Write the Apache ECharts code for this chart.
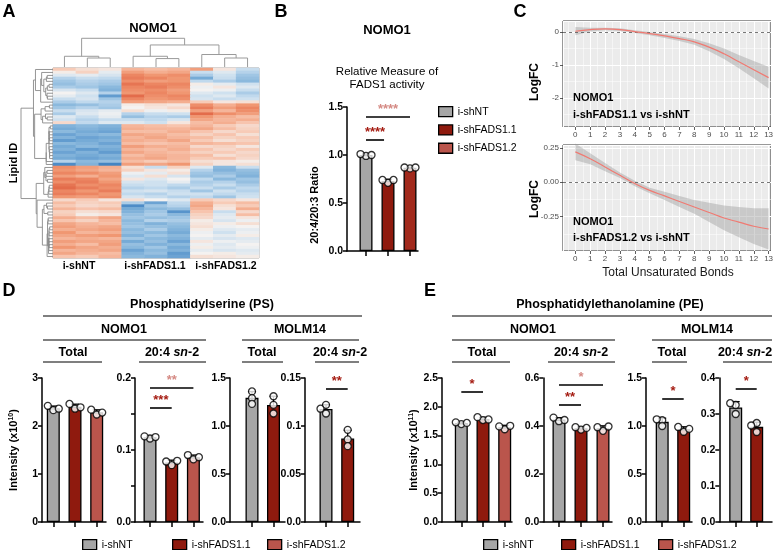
<!DOCTYPE html>
<html>
<head>
<meta charset="utf-8">
<script src="https://cdn.jsdelivr.net/npm/echarts/dist/echarts.min.js"></script>
<style>
html, body { margin: 0; padding: 0; background: #fff; }
#main { width: 775px; height: 550px; }
</style>
</head>
<body>
<div id="main"></div>
<script>
var FONT = '"Liberation Sans", Arial, sans-serif';

// groups and colours
var groups = ['i-shNT', 'i-shFADS1.1', 'i-shFADS1.2'];
var barColors = ['#a6a6a6', '#8f1a0e', '#ba554c'];
var barColorsB = ['#a6a6a6', '#8f1a0e', '#a1291c'];
var RED = '#a51c12', PINK = '#d58a84';

// panel A: heatmap columns (3 replicates per group), z-scored lipid rows
var heatCols = ['NT-1', 'NT-2', 'NT-3', 'F1.1-1', 'F1.1-2', 'F1.1-3', 'F1.2-1', 'F1.2-2', 'F1.2-3'];
var heatRows = [
  [0.6, 0.3, 0.2, 0.9, 0.8, 0.9, 1.2, 0.2, -0.6],
  [0.1, 0.5, -0.2, 1.2, 1.0, 1.1, -0.6, -0.3, -0.8],
  [-0.3, -0.2, -0.4, 1.5, 1.3, 1.4, -0.9, -0.5, -1.0],
  [-0.8, -0.6, -0.7, 1.6, 1.5, 1.3, -1.4, -0.6, -1.1],
  [-1.0, -0.8, -0.9, 1.4, 1.2, 1.3, -0.7, -0.9, -1.2],
  [-1.1, -0.9, -1.0, 1.7, 1.5, 1.5, 0.1, -0.2, -0.5],
  [-0.9, -1.0, -1.2, 1.5, 1.6, 1.4, -0.1, 0.2, -0.3],
  [-0.4, -0.6, -1.3, 1.4, 1.4, 1.2, 0.0, -0.1, -0.6],
  [0.0, -0.3, -0.8, 1.3, 1.5, 1.3, -0.3, -0.5, -0.9],
  [-0.2, -0.5, -1.6, 1.8, 1.4, 1.5, -0.5, -0.3, -0.7],
  [-0.6, -0.4, -1.0, 1.5, 1.3, 1.4, -0.4, -0.6, -0.5],
  [-0.9, -0.7, -0.8, 1.2, 1.1, 1.0, 0.6, 0.2, 0.3],
  [-1.2, -1.1, -0.9, 0.1, 0.3, 0.2, 1.4, 1.0, 1.3],
  [-1.0, -0.8, -1.0, 0.0, 0.2, 0.4, 1.6, 1.2, 1.5],
  [-0.6, -0.4, -0.2, 0.3, -0.1, 0.1, 1.2, 0.9, 1.4],
  [-0.9, -0.3, -0.1, -0.8, -0.6, -0.5, 1.8, 1.4, 1.2],
  [-0.3, -0.6, -0.2, -1.1, -0.8, -0.9, 1.3, 1.0, 0.8],
  [-0.5, -0.8, -0.6, -0.6, -0.7, -0.4, 1.1, 0.9, 1.0],
  [0.4, -0.7, -0.3, -0.3, -0.5, 0.2, 0.8, 1.0, 0.7],
  [-1.3, -1.2, -1.3, 0.9, 0.8, 0.7, 0.9, 0.6, 0.4],
  [-1.4, -1.3, -1.4, 1.0, 0.9, 0.9, 1.1, 0.8, 0.5],
  [-1.2, -1.4, -1.5, 0.8, 0.8, 1.0, 0.7, 0.4, 0.6],
  [-1.5, -1.3, -1.2, 1.1, 1.0, 0.8, 0.5, 0.7, 0.3],
  [-1.3, -1.5, -1.4, 0.9, 1.1, 0.9, 0.8, 0.5, 0.6],
  [-1.6, -1.4, -1.3, 1.0, 0.9, 1.1, 0.6, 0.3, 0.5],
  [-1.2, -1.3, -1.5, 0.8, 0.7, 0.8, 0.9, 0.8, 0.7],
  [-1.4, -1.2, -1.3, 1.2, 1.0, 0.9, 0.4, 0.5, 0.2],
  [-1.3, -1.6, -1.4, 0.9, 0.8, 1.0, 0.7, 0.4, 0.6],
  [-1.5, -1.3, -1.6, 1.1, 0.9, 0.8, 0.5, 0.6, 0.4],
  [-1.3, -1.4, -1.3, 0.8, 1.0, 0.9, 0.8, 0.3, 0.5],
  [-1.4, -1.5, -1.4, 1.0, 1.1, 0.9, 0.6, 0.7, 0.4],
  [-0.8, -1.2, -1.1, 0.8, 0.6, 0.8, 0.3, 0.2, 0.1],
  [-1.8, -1.3, -1.9, 1.2, 1.1, 1.3, 0.5, 0.2, 0.3],
  [1.4, 1.2, 1.0, 0.3, -0.6, 0.5, -0.3, -1.2, -0.6],
  [1.3, 1.1, 0.9, 0.5, 0.2, 0.1, -0.8, -1.3, -1.1],
  [1.5, 1.4, 1.2, -0.1, -0.2, 0.3, -1.0, -1.1, -1.2],
  [1.2, 1.0, 1.3, -0.3, 0.3, -0.4, -1.1, -0.9, -1.3],
  [1.6, 1.5, 1.1, 0.2, -0.3, 0.0, -0.7, -1.2, -1.0],
  [1.4, 1.6, 1.3, -0.4, -0.5, -0.2, -0.9, -0.8, -1.1],
  [1.7, 1.4, 1.5, -0.6, -0.5, -0.7, -0.8, -0.6, -0.9],
  [1.8, 1.6, 1.4, -0.8, -0.7, -0.9, -0.6, -0.9, -0.7],
  [1.5, 1.3, 1.6, -0.5, -0.4, -0.6, -1.0, -0.5, -0.8],
  [1.6, 1.5, 1.3, -0.7, -0.8, -0.5, -0.5, -0.7, -0.6],
  [1.3, 1.2, 1.4, -0.4, -0.6, -0.8, -0.7, -1.0, -0.5],
  [0.4, 0.6, 0.2, 0.3, 0.0, -0.3, 0.6, 0.4, 0.2],
  [0.8, 0.5, 0.6, -0.9, -1.5, -0.7, 1.0, 0.6, 0.8],
  [0.6, 0.4, 0.5, -1.8, -1.0, -0.8, 1.1, 0.3, 0.6],
  [0.9, 0.7, 0.8, -1.4, -1.2, -1.1, 0.9, 0.2, 1.0],
  [0.5, 0.3, 0.4, -1.3, -1.0, -1.7, 0.7, -0.6, 0.4],
  [0.6, 0.1, 0.2, -1.1, -0.9, -1.2, 0.5, -0.3, 0.8],
  [1.0, 0.8, 1.1, -1.0, -1.1, -1.0, 0.4, -0.2, 0.2],
  [0.7, 0.5, 0.9, -1.2, -0.8, -0.9, 0.1, -0.4, -0.1],
  [1.1, 0.9, 0.8, -1.1, -1.3, -1.1, 0.2, 0.1, 0.3],
  [1.2, 1.0, 1.1, -1.0, -1.1, -1.2, 0.3, -0.1, 0.0],
  [1.0, 1.1, 1.2, -1.2, -0.9, -1.3, 0.1, -0.3, -0.2],
  [1.3, 0.9, 1.0, -1.1, -1.2, -1.4, -0.1, -0.5, -0.1],
  [1.1, 1.2, 1.3, -1.3, -1.0, -1.2, 0.0, -0.2, 0.1],
  [0.9, 1.0, 0.9, -1.0, -1.2, -1.3, -0.2, -0.4, -0.3],
  [1.2, 1.1, 1.1, -1.4, -1.1, -1.5, 0.2, -0.1, -0.2],
  [1.0, 0.8, 1.2, -1.1, -1.3, -1.2, -0.1, -0.3, 0.0],
  [1.3, 1.1, 1.0, -1.2, -1.0, -1.4, 0.1, -0.2, -0.1],
  [0.9, 1.0, 1.1, -1.5, -1.2, -1.3, -0.2, -0.4, -0.3],
  [1.1, 0.9, 0.8, -1.3, -1.1, -1.6, 0.0, 0.1, -0.2],
  [0.7, 0.6, 0.9, -1.2, -1.3, -1.5, 0.3, 0.2, 0.1]
];
// column dendrogram merges: [left id, right id, height]
var colLinkage = [
  [1, 2, 0.31], [4, 5, 0.29], [7, 8, 0.31],
  [0, 9, 0.37], [3, 10, 0.37], [6, 11, 0.43],
  [13, 14, 0.76], [12, 15, 0.99]
];

// panel B: 20:4/20:3 ratio replicates
var ratioB = [[0.99, 1.01, 1.00], [0.71, 0.74, 0.74], [0.86, 0.87, 0.87]];

// panel C: loess fit and band vs total unsaturated bonds
var bonds = [0, 1, 2, 3, 4, 5, 6, 7, 8, 9, 10, 11, 12, 13];
var fit1 = [0.02, 0.07, 0.09, 0.07, 0.01, -0.05, -0.12, -0.2, -0.3, -0.46, -0.66, -0.9, -1.14, -1.38];
var lo1 = [-0.1, 0.01, 0.05, 0.03, -0.03, -0.1, -0.18, -0.27, -0.39, -0.58, -0.82, -1.1, -1.4, -1.71];
var hi1 = [0.15, 0.13, 0.13, 0.11, 0.05, 0.0, -0.06, -0.13, -0.21, -0.34, -0.5, -0.7, -0.88, -1.05];
var fit2 = [0.22, 0.17, 0.11, 0.05, -0.01, -0.06, -0.1, -0.14, -0.18, -0.22, -0.26, -0.29, -0.32, -0.34];
var lo2 = [0.16, 0.13, 0.08, 0.03, -0.03, -0.08, -0.13, -0.18, -0.23, -0.29, -0.35, -0.4, -0.45, -0.49];
var hi2 = [0.28, 0.21, 0.14, 0.07, 0.01, -0.04, -0.07, -0.1, -0.13, -0.15, -0.17, -0.18, -0.19, -0.19];

// panel D: phosphatidylserine (x10^10)
var psNomoTotal = [[2.33, 2.42, 2.36], [2.36, 2.46, 2.39], [2.24, 2.34, 2.28]];
var psNomo204 = [[0.116, 0.119, 0.118], [0.079, 0.084, 0.085], [0.087, 0.093, 0.090]];
var psMolmTotal = [[1.36, 1.29, 1.23], [1.31, 1.22, 1.13]];
var psMolm204 = [[0.122, 0.118, 0.113], [0.096, 0.086, 0.079]];

// panel E: phosphatidylethanolamine (x10^11)
var peNomoTotal = [[1.70, 1.73, 1.72], [1.77, 1.82, 1.78], [1.61, 1.66, 1.67]];
var peNomo204 = [[0.42, 0.435, 0.425], [0.385, 0.395, 0.392], [0.38, 0.395, 0.398]];
var peMolmTotal = [[1.06, 1.00, 1.07], [0.94, 0.99, 0.97]];
var peMolm204 = [[0.325, 0.33, 0.30], [0.275, 0.25, 0.268]];

// ---------------------------------------------------------------
var myChart = echarts.init(document.getElementById('main'));
var grids = [], xAxes = [], yAxes = [], series = [], graphics = [], legends = [];

function mean(a) { return a.reduce(function (s, v) { return s + v; }, 0) / a.length; }
function sd(a) { var m = mean(a); return Math.sqrt(a.reduce(function (s, v) { return s + (v - m) * (v - m); }, 0) / (a.length - 1)); }

function addGrid(g) {
  g.containLabel = false;
  g.outerBoundsMode = 'none';
  grids.push(g);
  return grids.length - 1;
}

// dendrogram segments from a linkage list
function buildDendro(linkage, n) {
  var pos = [], hgt = [], segs = [];
  for (var i = 0; i < n; i++) { pos.push(i); hgt.push(0); }
  linkage.forEach(function (l) {
    var a = l[0], b = l[1], h = Math.max(l[2], hgt[a], hgt[b]);
    segs.push([pos[a], hgt[a], pos[b], hgt[b], h]);
    pos.push((pos[a] + pos[b]) / 2);
    hgt.push(h);
  });
  return segs;
}

// order-preserving average linkage for the rows
function adjacentLinkage(rows) {
  function dist(a, b) { var s = 0; for (var k = 0; k < a.length; k++) { var d = a[k] - b[k]; s += d * d; } return Math.sqrt(s); }
  function avg(c1, c2) {
    var s = 0;
    c1.m.forEach(function (i) { c2.m.forEach(function (j) { s += dist(rows[i], rows[j]); }); });
    return s / (c1.m.length * c2.m.length);
  }
  var cl = rows.map(function (r, i) { return { id: i, m: [i] }; });
  var next = rows.length, link = [];
  while (cl.length > 1) {
    var best = 0, bd = Infinity;
    for (var i = 0; i < cl.length - 1; i++) {
      var d = avg(cl[i], cl[i + 1]);
      if (d < bd) { bd = d; best = i; }
    }
    link.push([cl[best].id, cl[best + 1].id, bd]);
    cl.splice(best, 2, { id: next++, m: cl[best].m.concat(cl[best + 1].m) });
  }
  return link;
}

// ---------------- panel A ----------------
var gHeat = addGrid({ left: 53, top: 68, width: 206, height: 190, show: true, borderColor: '#a0a0a0', borderWidth: 1, backgroundColor: 'transparent' });
xAxes.push({ gridIndex: gHeat, type: 'category', data: heatCols, show: false });
yAxes.push({ gridIndex: gHeat, type: 'category', data: heatRows.map(function (r, i) { return 'L' + i; }), inverse: true, show: false });
var heatData = [];
heatRows.forEach(function (r, i) { r.forEach(function (v, j) { heatData.push([j, i, v]); }); });
series.push({ type: 'heatmap', xAxisIndex: gHeat, yAxisIndex: gHeat, data: heatData, progressive: 0, emphasis: { disabled: true }, silent: true });
var heatSeriesIndex = series.length - 1;

var gColD = addGrid({ left: 53, top: 38, width: 206, height: 29 });
xAxes.push({ gridIndex: gColD, type: 'value', min: -0.5, max: 8.5, show: false });
yAxes.push({ gridIndex: gColD, type: 'value', min: 0, max: 1.0, show: false });
series.push({
  type: 'custom', xAxisIndex: gColD, yAxisIndex: gColD, silent: true,
  data: buildDendro(colLinkage, heatCols.length),
  encode: { x: [0, 2], y: [1, 3, 4] },
  renderItem: function (params, api) {
    var pts = [api.coord([api.value(0), api.value(1)]), api.coord([api.value(0), api.value(4)]),
               api.coord([api.value(2), api.value(4)]), api.coord([api.value(2), api.value(3)])];
    return { type: 'polyline', shape: { points: pts }, style: { stroke: '#9a9a9a', lineWidth: 1, fill: null } };
  }
});

var rowLink = adjacentLinkage(heatRows);
var rowSegs = buildDendro(rowLink, heatRows.length);
var rootH = rowSegs[rowSegs.length - 1][4];
var gRowD = addGrid({ left: 21, top: 68, width: 32, height: 190 });
xAxes.push({ gridIndex: gRowD, type: 'value', min: 0, max: rootH, inverse: true, show: false });
yAxes.push({ gridIndex: gRowD, type: 'value', min: -0.5, max: heatRows.length - 0.5, inverse: true, show: false });
series.push({
  type: 'custom', xAxisIndex: gRowD, yAxisIndex: gRowD, silent: true,
  data: rowSegs,
  encode: { x: [1, 3, 4], y: [0, 2] },
  renderItem: function (params, api) {
    var pts = [api.coord([api.value(1), api.value(0)]), api.coord([api.value(4), api.value(0)]),
               api.coord([api.value(4), api.value(2)]), api.coord([api.value(3), api.value(2)])];
    return { type: 'polyline', shape: { points: pts }, style: { stroke: '#8a8a8a', lineWidth: 0.9, fill: null } };
  }
});

// ---------------- bar panels (B, D, E) ----------------
function fmtTenth(v) { return Math.abs(v * 10 - Math.round(v * 10)) < 1e-6 ? v.toFixed(1) : ''; }
function fmtOne(v) { return v.toFixed(1); }
function fmtInt(v) { return String(Math.round(v)); }
function fmtSmall(v) { return v === 0 ? '0.0' : String(+v.toFixed(2)); }

// sideways nudge for replicate dots that would overlap (pixels)
function swarm(reps, pxPerUnit) {
  var cands = [0, -5.5, 5.5, -9, 9], placed = [];
  return reps.map(function (v) {
    var y = v * pxPerUnit, off = 0;
    for (var c = 0; c < cands.length; c++) {
      var ok = placed.every(function (p) {
        var dx = p[0] - cands[c], dy = p[1] - y;
        return dx * dx + dy * dy >= 5.5 * 5.5;
      });
      if (ok) { off = cands[c]; break; }
    }
    placed.push([off, y]);
    return off;
  });
}

function addBarPanel(p) {
  var n = p.reps.length;
  var colors = p.colors || barColors;
  var xmin = -(p.c0 - p.axis) / p.step, xmax = (p.right - p.c0) / p.step;
  var gi = addGrid({ left: p.axis, top: p.top, width: p.right - p.axis, height: p.h });
  var lineSt = { color: '#000', width: 1.5 };
  var ticks = [];
  for (var i = 0; i < n; i++) ticks.push(i);
  xAxes.push({
    gridIndex: gi, type: 'value', min: xmin, max: xmax,
    axisLine: { show: true, onZero: false, lineStyle: lineSt },
    axisTick: { show: true, customValues: ticks, length: 5, inside: false, lineStyle: lineSt },
    axisLabel: { show: false }, splitLine: { show: false }
  });
  var ya = {
    gridIndex: gi, type: 'value', min: 0, max: p.ymax, interval: p.interval,
    axisLine: { show: true, onZero: false, lineStyle: lineSt },
    axisTick: { show: true, length: 4, lineStyle: lineSt },
    axisLabel: { color: '#000', fontWeight: 'bold', fontSize: 10.5, fontFamily: FONT, margin: 4, formatter: p.fmt },
    splitLine: { show: false }
  };
  if (p.yname) {
    ya.name = p.yname;
    ya.nameLocation = 'middle';
    ya.nameGap = 23;
    ya.nameTextStyle = { color: '#000', fontWeight: 'bold', fontSize: 11, fontFamily: FONT,
      rich: { s: { fontSize: 7, fontWeight: 'bold', fontFamily: FONT, verticalAlign: 'top', lineHeight: 8 } } };
  }
  yAxes.push(ya);

  p.reps.forEach(function (reps, i) {
    var s = {
      type: 'bar', name: groups[i], xAxisIndex: gi, yAxisIndex: gi, stack: 'p' + gi,
      barWidth: p.bw, data: [[i, mean(reps)]], silent: true,
      itemStyle: { color: colors[i], borderColor: '#000', borderWidth: 1.3 }, z: 2
    };
    if (i === 0 && p.sig) {
      s.markLine = {
        silent: true, symbol: ['none', 'none'], animation: false,
        lineStyle: { color: '#000', width: 1.6, type: 'solid' },
        data: p.sig.map(function (g) {
          return [
            { coord: [g.a, g.y], label: { show: true, position: 'middle', formatter: g.t, color: g.c, fontSize: 13, fontWeight: 'bold', fontFamily: FONT, distance: 1 } },
            { coord: [g.b, g.y] }
          ];
        })
      };
    }
    series.push(s);
  });
  // error bars (mean + SD)
  series.push({
    type: 'custom', xAxisIndex: gi, yAxisIndex: gi, silent: true, z: 3,
    data: p.reps.map(function (r, i) { return [i, mean(r), mean(r) + sd(r)]; }),
    encode: { x: 0, y: [1, 2] },
    renderItem: function (params, api) {
      var a = api.coord([api.value(0), api.value(1)]), b = api.coord([api.value(0), api.value(2)]);
      return { type: 'group', children: [
        { type: 'line', shape: { x1: a[0], y1: a[1], x2: b[0], y2: b[1] }, style: { stroke: '#000', lineWidth: 1.3 } },
        { type: 'line', shape: { x1: b[0] - 4, y1: b[1], x2: b[0] + 4, y2: b[1] }, style: { stroke: '#000', lineWidth: 1.3 } }
      ] };
    }
  });
  // replicate points
  var pts = [];
  p.reps.forEach(function (r, i) {
    var offs = swarm(r, p.h / p.ymax);
    r.forEach(function (v, k) { pts.push({ value: [i, v], symbolOffset: [offs[k], 0] }); });
  });
  series.push({
    type: 'scatter', xAxisIndex: gi, yAxisIndex: gi, data: pts, symbolSize: 7, silent: true, z: 4,
    itemStyle: { color: '#fff', borderColor: '#000', borderWidth: 1.3 }
  });
}

// panel B
addBarPanel({ reps: ratioB, colors: barColorsB, axis: 347, c0: 366, step: 22, right: 418, top: 107, h: 144, bw: 13,
  ymax: 1.5, interval: 0.5, fmt: fmtOne,
  sig: [{ a: 0, b: 2, y: 1.40, t: '****', c: PINK }, { a: 0, b: 0.82, y: 1.16, t: '****', c: RED }] });

// panel D
var yTop = 378, yH = 144;
var yNameD = 'Intensity (x10{s|10})', yNameE = 'Intensity (x10{s|11})';
addBarPanel({ reps: psNomoTotal, axis: 42, c0: 53.3, step: 21.7, right: 106, top: yTop, h: yH, bw: 13,
  ymax: 3, interval: 1, fmt: fmtInt, yname: yNameD });
addBarPanel({ reps: psNomo204, axis: 135, c0: 150, step: 21.7, right: 203, top: yTop, h: yH, bw: 13,
  ymax: 0.2, interval: 0.05, fmt: fmtTenth,
  sig: [{ a: 0, b: 2, y: 0.186, t: '**', c: PINK }, { a: 0, b: 1, y: 0.158, t: '***', c: RED }] });
addBarPanel({ reps: psMolmTotal, axis: 230, c0: 252, step: 21.5, right: 285, top: yTop, h: yH, bw: 13,
  ymax: 1.5, interval: 0.5, fmt: fmtOne });
addBarPanel({ reps: psMolm204, axis: 305, c0: 326, step: 21.7, right: 360, top: yTop, h: yH, bw: 13,
  ymax: 0.15, interval: 0.05, fmt: fmtSmall,
  sig: [{ a: 0, b: 1, y: 0.1385, t: '**', c: RED }] });

// panel E
addBarPanel({ reps: peNomoTotal, axis: 442, c0: 461.3, step: 21.7, right: 512, top: yTop, h: yH, bw: 13,
  ymax: 2.5, interval: 0.5, fmt: fmtOne, yname: yNameE,
  sig: [{ a: 0, b: 1, y: 2.26, t: '*', c: RED }] });
addBarPanel({ reps: peNomo204, axis: 543.3, c0: 559, step: 22, right: 612, top: yTop, h: yH, bw: 13,
  ymax: 0.6, interval: 0.2, fmt: fmtOne,
  sig: [{ a: 0, b: 2, y: 0.571, t: '*', c: PINK }, { a: 0, b: 1, y: 0.4875, t: '**', c: RED }] });
addBarPanel({ reps: peMolmTotal, axis: 646, c0: 662.2, step: 21.5, right: 692, top: yTop, h: yH, bw: 13,
  ymax: 1.5, interval: 0.5, fmt: fmtOne,
  sig: [{ a: 0, b: 1, y: 1.28, t: '*', c: RED }] });
addBarPanel({ reps: peMolm204, axis: 719.3, c0: 735.7, step: 21, right: 772, top: yTop, h: yH, bw: 13,
  ymax: 0.4, interval: 0.1, fmt: fmtOne,
  sig: [{ a: 0, b: 1, y: 0.369, t: '*', c: RED }] });

// ---------------- panel C ----------------
function addFitPanel(top, ymin, ymax, yopt, fit, lo, hi, fmt) {
  var gi = addGrid({ left: 563, top: top, width: 208, height: 106, show: true, backgroundColor: '#ebebeb', borderColor: '#333', borderWidth: 1 });
  var lab = { color: '#4d4d4d', fontSize: 8, fontFamily: FONT, margin: 4, showMinLabel: false, showMaxLabel: false };
  var tick = { show: true, length: 3, lineStyle: { color: '#333', width: 0.8 } };
  xAxes.push({
    gridIndex: gi, type: 'value', min: -0.83, max: 13.16, splitNumber: 14,
    axisLine: { show: false, onZero: false }, axisTick: tick, axisLabel: lab,
    splitLine: { show: true, lineStyle: { color: '#fff', width: 1 } },
    minorTick: { show: false, splitNumber: 2 },
    minorSplitLine: { show: true, lineStyle: { color: '#fff', width: 0.5 } }
  });
  var ya = {
    gridIndex: gi, type: 'value', min: ymin, max: ymax,
    axisLine: { show: false, onZero: false }, axisTick: tick,
    axisLabel: Object.assign({}, lab, { formatter: fmt }),
    splitLine: { show: true, lineStyle: { color: '#fff', width: 1 } },
    minorTick: { show: false, splitNumber: 2 },
    minorSplitLine: { show: true, lineStyle: { color: '#fff', width: 0.5 } }
  };
  Object.assign(ya, yopt);
  yAxes.push(ya);
  // confidence band as one polygon through the upper and lower limits
  series.push({
    type: 'custom', xAxisIndex: gi, yAxisIndex: gi, silent: true, z: 2,
    data: bonds.map(function (b, i) { return [b, lo[i], hi[i]]; }),
    encode: { x: 0, y: [1, 2] },
    renderItem: function (params, api) {
      if (params.dataIndex !== 0) return;
      var up = [], dn = [];
      for (var i = 0; i < bonds.length; i++) {
        up.push(api.coord([bonds[i], hi[i]]));
        dn.unshift(api.coord([bonds[i], lo[i]]));
      }
      return { type: 'polygon', shape: { points: up.concat(dn) }, style: { fill: 'rgba(150,150,150,0.4)', stroke: null } };
    }
  });
  series.push({ type: 'line', xAxisIndex: gi, yAxisIndex: gi, data: bonds.map(function (b, i) { return [b, fit[i]]; }),
    smooth: true, symbol: 'none', lineStyle: { color: '#f07a72', width: 1.2 }, silent: true, z: 5,
    markLine: { silent: true, symbol: ['none', 'none'], label: { show: false }, animation: false,
      lineStyle: { color: '#555', type: [3, 3], width: 0.8 }, data: [{ yAxis: 0 }] } });
}
addFitPanel(21, -2.87, 0.33, { splitNumber: 3 }, fit1, lo1, hi1, function (v) { return String(v); });
addFitPanel(145, -0.5, 0.27, { interval: 0.25 }, fit2, lo2, hi2, function (v) { return v.toFixed(2); });

// ---------------- legends ----------------
function legendAt(idx, left, top, orient) {
  return { data: idx.map(function (i) { return { name: groups[i], itemStyle: { color: barColors[i], borderColor: '#000', borderWidth: 1.3 } }; }),
    left: left, top: top, orient: orient || 'horizontal', icon: 'rect',
    itemWidth: 14, itemHeight: 10, itemGap: 7, selectedMode: false,
    textStyle: { fontSize: 10.5, fontFamily: FONT, color: '#000' } };
}
legends.push(legendAt([0, 1, 2], 433, 101, 'vertical'));
[77, 167, 262].forEach(function (x, i) { legends.push(legendAt([i], x, 534)); });
[478, 556, 653].forEach(function (x, i) { legends.push(legendAt([i], x, 534)); });

// ---------------- texts and header lines ----------------
function txt(x, y, s, o) {
  o = o || {};
  return { type: 'text', x: x, y: y, rotation: o.rot || 0, silent: true, z: 10,
    style: { text: s, fill: o.color || '#000', fontSize: o.size || 12, fontWeight: o.weight || 'bold',
      fontFamily: FONT, align: o.align || 'center', verticalAlign: 'middle', rich: o.rich } };
}
function hline(x1, x2, y) {
  return { type: 'line', silent: true, shape: { x1: x1, y1: y, x2: x2, y2: y }, style: { stroke: '#000', lineWidth: 1.2 } };
}
var sn = { rich: { i: { fontStyle: 'italic', fontWeight: 'bold', fontSize: 12.5, fontFamily: FONT } }, size: 12.5 };
var H = 12.5;
graphics.push(
  txt(9, 12, 'A', { size: 18 }), txt(281, 12, 'B', { size: 18 }), txt(520, 12, 'C', { size: 18 }),
  txt(9, 291, 'D', { size: 18 }), txt(430, 291, 'E', { size: 18 }),
  txt(153, 28, 'NOMO1', { size: 13 }),
  txt(14, 163, 'Lipid ID', { size: 11, rot: Math.PI / 2 }),
  txt(79, 266, 'i-shNT', { size: 10.5 }), txt(155, 266, 'i-shFADS1.1', { size: 10.5 }), txt(226, 266, 'i-shFADS1.2', { size: 10.5 }),
  txt(387, 30, 'NOMO1', { size: 13 }),
  txt(387, 72, 'Relative Measure of', { size: 11.5, weight: 'normal' }),
  txt(387, 85, 'FADS1 activity', { size: 11.5, weight: 'normal' }),
  txt(315, 205, '20:4/20:3 Ratio', { size: 11, rot: Math.PI / 2 }),
  txt(535, 82, 'LogFC', { size: 12, rot: Math.PI / 2 }), txt(535, 199, 'LogFC', { size: 12, rot: Math.PI / 2 }),
  txt(668, 273, 'Total Unsaturated Bonds', { size: 12, weight: 'normal', color: '#1a1a1a' }),
  txt(573, 98, 'NOMO1', { size: 11, align: 'left' }), txt(573, 115, 'i-shFADS1.1 vs i-shNT', { size: 11, align: 'left' }),
  txt(573, 222, 'NOMO1', { size: 11, align: 'left' }), txt(573, 238, 'i-shFADS1.2 vs i-shNT', { size: 11, align: 'left' }),
  // D headers
  txt(202, 305, 'Phosphatidylserine (PS)', { size: H }), hline(43, 362, 316),
  txt(124, 330, 'NOMO1', { size: H }), hline(43, 206, 340),
  txt(300, 330, 'MOLM14', { size: H }), hline(242, 359, 340),
  txt(73, 353, 'Total', { size: H }), hline(43, 102, 362),
  txt(172, 353, '20:4 {i|sn}-2', sn), hline(139, 206, 362),
  txt(262, 353, 'Total', { size: H }), hline(242, 283, 362),
  txt(340, 353, '20:4 {i|sn}-2', sn), hline(315, 359, 362),
  // E headers
  txt(610, 305, 'Phosphatidylethanolamine (PE)', { size: H }), hline(452, 772, 316),
  txt(533, 330, 'NOMO1', { size: H }), hline(452, 615, 340),
  txt(707, 330, 'MOLM14', { size: H }), hline(652, 772, 340),
  txt(482, 353, 'Total', { size: H }), hline(452, 510, 362),
  txt(581, 353, '20:4 {i|sn}-2', sn), hline(548, 615, 362),
  txt(672, 353, 'Total', { size: H }), hline(652, 687, 362),
  txt(745, 353, '20:4 {i|sn}-2', sn), hline(723, 772, 362)
);

option = {
  animation: false,
  backgroundColor: '#fff',
  textStyle: { fontFamily: FONT },
  tooltip: { show: false },
  grid: grids,
  xAxis: xAxes,
  yAxis: yAxes,
  visualMap: [{
    type: 'continuous', show: false, seriesIndex: heatSeriesIndex, dimension: 2, min: -2, max: 2,
    inRange: { color: ['#3a7dbf', '#7db0d9', '#c3dbee', '#f4f2f1', '#f7c7b1', '#f0946f', '#de5b3c'] }
  }],
  legend: legends,
  graphic: graphics,
  series: series
};
myChart.setOption(option);

window.onresize = function () {
  myChart.resize();
};
</script>
</body>
</html>
